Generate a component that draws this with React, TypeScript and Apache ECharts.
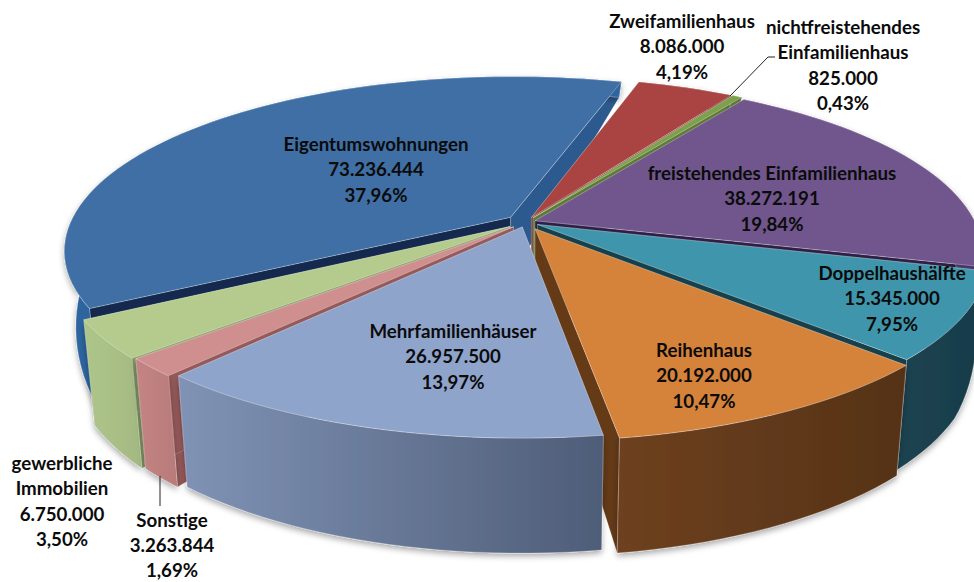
import React, { useEffect, useRef } from "react";
import * as echarts from "echarts";

// clockwise from the slice that starts near the top
const categories = ["Zweifamilienhaus", "nichtfreistehendes\nEinfamilienhaus", "freistehendes Einfamilienhaus", "Doppelhaushälfte", "Reihenhaus", "Mehrfamilienhäuser", "Sonstige", "gewerbliche\nImmobilien", "Eigentumswohnungen"];
const seriesValues = [8086000, 825000, 38272191, 15345000, 20192000, 26957500, 3263844, 6750000, 73236444];
const valueLabels = ["8.086.000", "825.000", "38.272.191", "15.345.000", "20.192.000", "26.957.500", "3.263.844", "6.750.000", "73.236.444"];
const percentLabels = ["4,19%", "0,43%", "19,84%", "7,95%", "10,47%", "13,97%", "1,69%", "3,50%", "37,96%"];

const topColors = ["#a94442", "#7ea04c", "#70568c", "#3f96ac", "#d5823b", "#8fa4cb", "#cf8f8f", "#b5cb8e", "#3f6fa5"];
const startWallColors = ["#7c2f2d", "#5c7a33", "#2e1f47", "#17404d", "#643a17", "#5b6d8c", "#96595a", "#8ba06a", "#14294d"];
const endWallColors = ["#7c2f2d", "#5c7a33", "#2e1f47", "#17404d", "#643a17", "#5b6d8c", "#96595a", "#8ba06a", "#2d5a8e"];
const sideLeft = ["#7c2f2d", "#5c7a33", "#4a3766", "#1c4451", "#6e4120", "#8093b5", "#c48484", "#aec58a", "#2f659f"];
const sideRight = ["#7c2f2d", "#5c7a33", "#4a3766", "#173b48", "#553216", "#4e5d78", "#b87a7a", "#a3b982", "#2f659f"];
const explode = [0.03, 0.03, 0.022, 0.03, 0.045, 0.03, 0.04, 0.045, 0.045];
const drawOrder = [8, 0, 1, 2, 3, 4, 7, 6, 5];
const labelAnchors = [[682, 8], [843, 14], [772, 160], [892, 260], [704, 337], [453, 318], [172, 507], [62, 450], [376, 131]];

const START_DEG = 17, CX = 526, CY = 222, RX = 440, RY = 169, K = 0.19;
const total = seriesValues.reduce((a, b) => a + b, 0);
const starts: number[] = [];
seriesValues.reduce((acc, v, i) => { starts[i] = acc; return acc + (v / total) * 360; }, START_DEG);

const depthStops = [[-145, 14], [0, 62], [90, 105], [135, 110], [215, 115], [400, 118]];
function depthAt(sy: number) {
  for (let i = 1; i < depthStops.length; i++) {
    if (sy <= depthStops[i][0]) {
      const [a, b] = depthStops[i - 1], [c, d] = depthStops[i];
      return b + ((Math.max(sy, a) - a) / (c - a)) * (d - b);
    }
  }
  return 118;
}
function project(X: number, Y: number) {
  const w = 1 - K * Y;
  return [CX + (RX * X) / w, CY + (RY * Y) / w];
}
function bottomOf(p: number[]) {
  return [CX + (p[0] - CX) * 0.975, p[1] + depthAt(p[1] - CY)];
}

function App() {
  const ref = useRef<HTMLDivElement>(null);
  useEffect(() => {
    document.body.style.margin = "0";
    const chart = echarts.init(ref.current!, null, { renderer: "svg" });
    const renderItem = (_p: any, api: any) => {
      const i = api.value(0) as number;
      const sweep = (seriesValues[i] / total) * 360;
      const a0 = starts[i];
      const mid = ((a0 + sweep / 2) * Math.PI) / 180;
      const ox = explode[i] * Math.sin(mid), oy = -explode[i] * Math.cos(mid);
      const at = (deg: number, r: number) => {
        const t = (deg * Math.PI) / 180;
        return project(ox + r * Math.sin(t), oy - r * Math.cos(t));
      };
      const apex = at(a0, 0);
      const rim: number[][] = [];
      const n = Math.max(4, Math.ceil(sweep / 2));
      for (let s = 0; s <= n; s++) rim.push(at(a0 + (sweep * s) / n, 1));
      const rimBottom = rim.map(bottomOf);
      const apexBottom = bottomOf(apex);
      const radial = (p: number[], q: number[], fill: string) => ({
        type: "polygon",
        shape: { points: [apex, p, q, apexBottom] },
        style: { fill, stroke: "rgba(255,255,255,0.18)", lineWidth: 1 },
      });
      return {
        type: "group",
        children: [
          radial(rim[0], rimBottom[0], startWallColors[i]),
          radial(rim[n], rimBottom[n], endWallColors[i]),
          {
            type: "polygon",
            shape: { points: [...rim, ...[...rimBottom].reverse()] },
            style: {
              fill: { type: "linear", x: 0, y: 0, x2: 1, y2: 0, colorStops: [{ offset: 0, color: sideLeft[i] }, { offset: 1, color: sideRight[i] }] },
              stroke: "rgba(255,255,255,0.22)",
              lineWidth: 1,
              shadowBlur: 6,
              shadowColor: "rgba(0,0,0,0.35)",
              shadowOffsetY: 3,
            },
          },
          {
            type: "polygon",
            shape: { points: [apex, ...rim] },
            style: { fill: topColors[i], stroke: "rgba(255,255,255,0.28)", lineWidth: 1 },
          },
        ],
      };
    };
    const labelGraphics = categories.map((c, i) => ({
      type: "text",
      x: labelAnchors[i][0],
      y: labelAnchors[i][1],
      z: 100,
      style: {
        text: [c, valueLabels[i], percentLabels[i]].join("\n"),
        font: "bold 18.7px Lato",
        fill: "#0b0b0b",
        align: "center",
        verticalAlign: "top",
        lineHeight: i === 6 ? 25 : 25.5,
      },
    }));
    const leaders = [
      [[730, 96], [768, 57], [775, 57]],
      [[160, 476], [160, 506]],
    ].map((points) => ({
      type: "polyline",
      z: 99,
      shape: { points },
      style: { stroke: "#222", lineWidth: 1, fill: "none" },
    }));
    chart.setOption({
      animation: false,
      backgroundColor: "#ffffff",
      series: [
        {
          type: "custom",
          coordinateSystem: "none",
          clip: false,
          renderItem,
          data: drawOrder.map((i) => ({ name: categories[i], value: [i, seriesValues[i]] })),
          encode: { value: 1 },
        },
      ],
      graphic: [...leaders, ...labelGraphics],
    });
    return () => chart.dispose();
  }, []);
  return <div ref={ref} style={{ width: 974, height: 582 }} />;
}

export default App;
